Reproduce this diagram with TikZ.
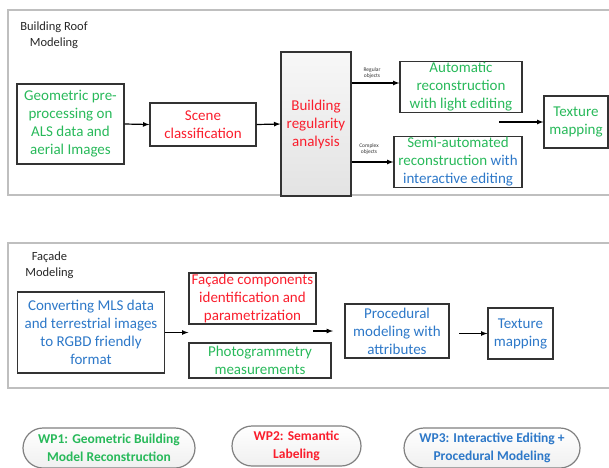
\documentclass[tikz,border=0pt]{standalone}
\usepackage{fontspec}
\setmainfont{Carlito}
\usepackage{tikz}
\usetikzlibrary{calc}
\definecolor{wpgreen}{RGB}{40,185,90}
\definecolor{wpred}{RGB}{250,30,45}
\definecolor{wpblue}{RGB}{45,120,200}

\begin{document}
\begin{tikzpicture}[
            x=1pt,y=-1pt,
            every node/.append style={align=center,font=\fontsize{15}{18}\selectfont},
            every path/.append style={line width=1.2pt},
            box/.style={draw=black!80,inner sep=1pt},
            frame/.style={draw=black!25,line width=1.5pt},
            title/.style={text=black!85,font=\fontsize{12.5}{16.5}\selectfont},
            tag/.style={text=black!80,font=\fontsize{5.5}{6.5}\selectfont},
            arr/.style={black,-latex},
            wp/.style={draw=black!50,rounded corners=20pt,top color=white,bottom color=black!6,
                font=\bfseries\fontsize{13.5}{18}\selectfont,minimum height=40pt}
        ]
            \useasboundingbox (0,0) rectangle (609,467);

            % roof modeling
            \draw[frame] (8,10) rectangle (640,195);
            \node[title] (rooftitle) at (54,35) {Building Roof\\Modeling};
            \node[box,text=wpgreen,minimum width=107pt,minimum height=80pt] (geo) at (70.5,124)
                {Geometric pre-\\processing on\\ALS data and\\aerial Images};
            \node[box,text=wpred,minimum width=106pt,minimum height=43pt] (scene) at (203,124.5)
                {Scene\\classification};
            \node[box,text=wpred,top color=black!3,bottom color=black!11,
                minimum width=70pt,minimum height=144pt] (bra) at (316,124)
                {Building\\regularity\\analysis};
            \node[box,text=wpgreen,minimum width=122pt,minimum height=50pt] (auto) at (461,87)
                {Automatic\\reconstruction\\with light editing};
            \node[box,minimum width=128pt,minimum height=50pt] (semi) at (458,162)
                {\textcolor{wpgreen}{Semi-automated}\\\textcolor{wpgreen}{reconstruction} \textcolor{wpblue}{with}\\\textcolor{wpblue}{interactive editing}};
            \node[box,text=wpgreen,minimum width=64pt,minimum height=52pt] (tex1) at (576,122)
                {Texture\\mapping};
            \node[tag] (regtag) at (372,73) {Regular\\objects};
            \node[tag] (comptag) at (369,149) {Complex\\objects};
            \coordinate (texin) at (499,122);

            \draw[arr] (geo.east) -- (scene.west);
            \draw[arr] (scene.east) -- (bra.west);
            \draw[arr] ($(bra.east |- auto.west)+(0,-4)$) -- ($(auto.west)+(0,-4)$);
            \draw[arr] (bra.east |- semi.west) -- (semi.west);
            \draw[arr] (texin) -- (tex1.west);

            % facade modeling
            \draw[frame] (8,243) rectangle (640,388);
            \node[title] (factitle) at (49.5,265) {Façade\\Modeling};
            \node[box,text=wpblue,minimum width=147.5pt,minimum height=81pt] (conv) at (91,332.5)
                {Converting MLS data\\and terrestrial images\\to RGBD friendly\\format};
            \node[box,text=wpred,minimum width=127pt,minimum height=49pt] (comp) at (252.5,298.5)
                {Façade components\\identification and\\parametrization};
            \node[box,text=wpgreen,minimum width=142pt,minimum height=35pt] (photo) at (260,360.5)
                {Photogrammetry\\measurements};
            \node[box,text=wpblue,minimum width=104pt,minimum height=54pt] (proc) at (397,331)
                {Procedural\\modeling with\\attributes};
            \node[box,text=wpblue,minimum width=65pt,minimum height=51pt] (tex2) at (520.5,333.5)
                {Texture\\mapping};
            \coordinate (procin) at (313,331);
            \coordinate (procend) at (333,331);
            \coordinate (texin2) at (459,333.5);

            \draw[arr] (conv.east) -- (conv.east -| comp.west);
            \draw[arr] (procin) -- (procend);
            \draw[arr] (texin2) -- (tex2.west);

            % work packages
            \node[wp,text=wpgreen,minimum width=172pt] (wp1) at (109,448)
                {WP1: Geometric Building\\Model Reconstruction};
            \node[wp,text=wpred,minimum width=129pt] (wp2) at (296.5,446)
                {WP2: Semantic\\Labeling};
            \node[wp,text=wpblue,minimum width=176pt] (wp3) at (492,448)
                {WP3: Interactive Editing +\\Procedural Modeling};
        \end{tikzpicture}
\end{document}
